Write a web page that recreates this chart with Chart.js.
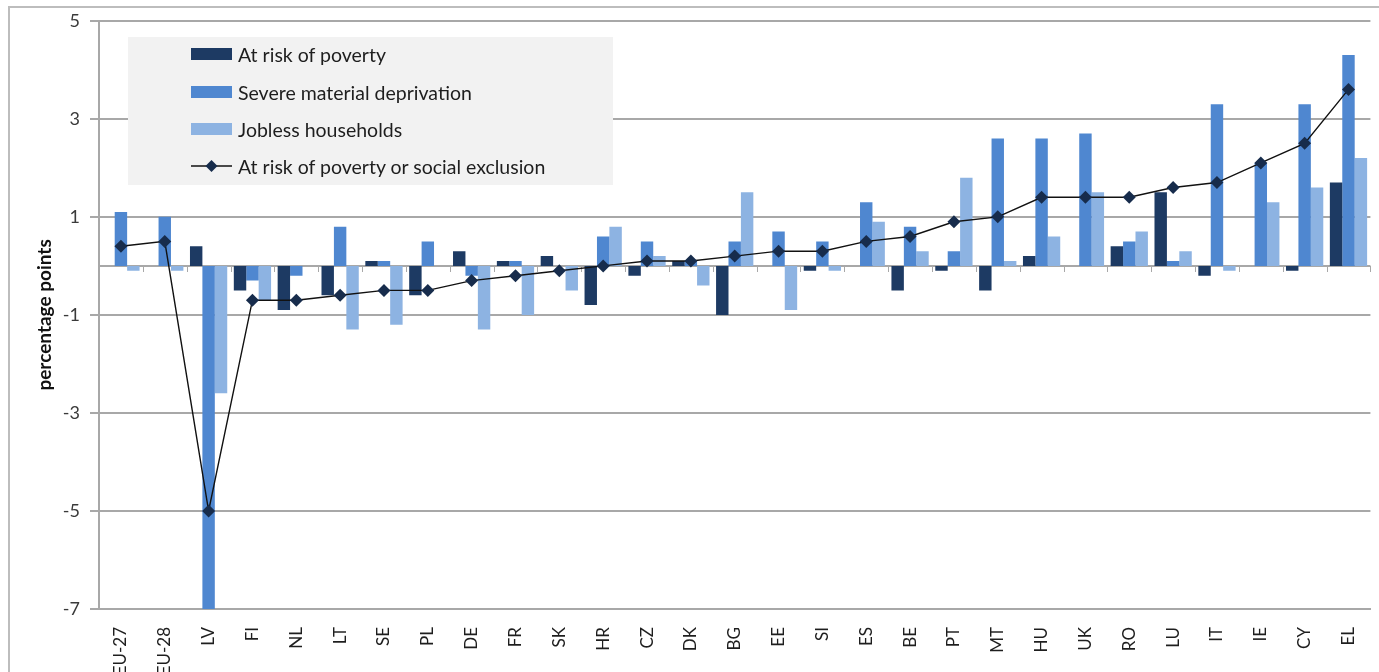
<!DOCTYPE html>
<html>
<head>
<meta charset="utf-8">
<title>Change by country, percentage points</title>
<script src="https://cdn.jsdelivr.net/npm/chart.js@4.4.1/dist/chart.umd.min.js"></script>
<style>
  html, body { margin: 0; padding: 0; background: #fff; overflow: hidden; }
  #wrap { position: relative; width: 1379px; height: 672px; }
  #chart { position: absolute; left: 0; top: 0; }
  #legend {
    position: absolute; left: 128px; top: 37px; width: 485px; height: 148px;
    background: #f2f2f2; font-family: Lato, "Open Sans", sans-serif; font-size: 19.5px; color: #1e1e1e;
  }
  #legend .item { position: absolute; left: 63px; height: 24px; display: flex; align-items: center; white-space: nowrap; }
</style>
</head>
<body>
<div id="wrap">
  <canvas id="chart" width="1379" height="672"></canvas>
  <div id="legend"></div>
</div>
<script>
// Categories (countries, ordered by the combined indicator)
const categories = ['EU-27','EU-28','LV','FI','NL','LT','SE','PL','DE','FR','SK','HR','CZ','DK','BG','EE','SI','ES','BE','PT','MT','HU','UK','RO','LU','IT','IE','CY','EL'];

// Series values (percentage points)
const atRiskOfPoverty      = [0.0, 0.0, 0.4,-0.5,-0.9,-0.6, 0.1,-0.6, 0.3, 0.1, 0.2,-0.8,-0.2, 0.1,-1.0, 0.0,-0.1, 0.0,-0.5,-0.1,-0.5, 0.2, 0.0, 0.4, 1.5,-0.2, 0.0,-0.1, 1.7];
const severeDeprivation    = [1.1, 1.0,-7.0,-0.3,-0.2, 0.8, 0.1, 0.5,-0.2, 0.1, 0.0, 0.6, 0.5, 0.1, 0.5, 0.7, 0.5, 1.3, 0.8, 0.3, 2.6, 2.6, 2.7, 0.5, 0.1, 3.3, 2.1, 3.3, 4.3];
const joblessHouseholds    = [-0.1,-0.1,-2.6,-0.7, 0.0,-1.3,-1.2, 0.0,-1.3,-1.0,-0.5, 0.8, 0.2,-0.4, 1.5,-0.9,-0.1, 0.9, 0.3, 1.8, 0.1, 0.6, 1.5, 0.7, 0.3,-0.1, 1.3, 1.6, 2.2];
const povertyOrExclusion   = [0.4, 0.5,-5.0,-0.7,-0.7,-0.6,-0.5,-0.5,-0.3,-0.2,-0.1, 0.0, 0.1, 0.1, 0.2, 0.3, 0.3, 0.5, 0.6, 0.9, 1.0, 1.4, 1.4, 1.4, 1.6, 1.7, 2.1, 2.5, 3.6];

// Y-axis tick values
const yTicks = [-7, -5, -3, -1, 1, 3, 5];

const seriesLabels = ['At risk of poverty', 'Severe material deprivation', 'Jobless households', 'At risk of poverty or social exclusion'];

const COL_DARK = '#1d3a63';
const COL_MID = '#4f87d0';
const COL_LIGHT = '#8db3e2';
const COL_MARK = '#172c4c';
const GRID = '#a8a8a8';
const FONT = 'Lato, "Open Sans", sans-serif';

// Outer frame and the horizontal axis at zero with its category tick marks
const framePlugin = {
  id: 'frame',
  beforeDraw(chart) {
    const ctx = chart.ctx;
    ctx.save();
    ctx.fillStyle = '#fff';
    ctx.fillRect(0, 0, chart.width, chart.height);
    ctx.strokeStyle = '#bdbdbd';
    ctx.lineWidth = 2;
    ctx.beginPath();
    ctx.moveTo(9, chart.height);
    ctx.lineTo(9, 7);
    ctx.lineTo(chart.width, 7);
    ctx.stroke();
    ctx.restore();
  },
  beforeDatasetsDraw(chart) {
    const ctx = chart.ctx;
    const xs = chart.scales.x, ys = chart.scales.y;
    const y0 = Math.round(ys.getPixelForValue(0));
    const step = xs.getPixelForValue(1) - xs.getPixelForValue(0);
    ctx.save();
    ctx.strokeStyle = GRID;
    ctx.lineWidth = 2;
    ctx.beginPath();
    ctx.moveTo(chart.chartArea.left, y0);
    ctx.lineTo(chart.chartArea.right, y0);
    ctx.stroke();
    ctx.lineWidth = 1;
    ctx.beginPath();
    for (let i = 0; i <= categories.length; i++) {
      const x = Math.round(xs.getPixelForValue(i) - step / 2) + 0.5;
      ctx.moveTo(x, y0);
      ctx.lineTo(x, y0 + 6);
    }
    ctx.stroke();
    ctx.restore();
  }
};

const chart = new Chart(document.getElementById('chart'), {
  data: {
    labels: categories,
    datasets: [
      { type: 'line', label: seriesLabels[3], data: povertyOrExclusion, order: 0,
        borderColor: '#111', borderWidth: 1.4, tension: 0,
        pointStyle: 'rectRot', pointRadius: 6.5, pointBackgroundColor: COL_MARK, pointBorderColor: COL_MARK, pointBorderWidth: 0 },
      { type: 'bar', label: seriesLabels[0], data: atRiskOfPoverty, backgroundColor: COL_DARK, order: 1 },
      { type: 'bar', label: seriesLabels[1], data: severeDeprivation, backgroundColor: COL_MID, order: 1 },
      { type: 'bar', label: seriesLabels[2], data: joblessHouseholds, backgroundColor: COL_LIGHT, order: 1 }
    ]
  },
  options: {
    responsive: false,
    animation: false,
    layout: { padding: { left: 0, top: 20, right: 1, bottom: 0 } },
    datasets: { bar: { categoryPercentage: 0.85, barPercentage: 1.0 } },
    plugins: { legend: { display: false }, tooltip: { enabled: false } },
    scales: {
      x: {
        offset: true,
        grid: { display: false },
        border: { display: true, color: GRID, width: 2 },
        ticks: { autoSkip: false, maxRotation: 90, minRotation: 90, padding: 10,
                 color: '#1e1e1e', font: { family: FONT, size: 17 } },
        afterFit(scale) { scale.height = 63; }
      },
      y: {
        min: -7, max: 5,
        afterBuildTicks(scale) { scale.ticks = yTicks.map(v => ({ value: v })); },
        grid: { color: GRID, lineWidth: 2, tickLength: 9 },
        border: { display: true, color: GRID, width: 2 },
        ticks: { padding: 10, color: '#3a3a3a', font: { family: FONT, size: 18 } },
        title: { display: true, text: 'percentage points', color: '#111',
                 font: { family: FONT, size: 19, weight: 'bold' }, padding: { top: 33, bottom: 0 } },
        afterFit(scale) { scale.width = 99; }
      }
    }
  },
  plugins: [framePlugin]
});

// Legend panel built from the chart's datasets
const legend = document.getElementById('legend');
const rowOrder = [1, 2, 3, 0];
const rowTop = [5, 43, 80, 117];
rowOrder.forEach((di, r) => {
  const ds = chart.data.datasets[di];
  const item = document.createElement('div');
  item.className = 'item';
  item.style.top = rowTop[r] + 'px';
  const sw = document.createElement('canvas');
  sw.width = 41; sw.height = 14;
  sw.style.marginRight = '6px';
  const c = sw.getContext('2d');
  if (ds.type === 'bar') {
    c.fillStyle = ds.backgroundColor;
    c.fillRect(0, 1, 41, 12);
  } else {
    c.strokeStyle = '#111'; c.lineWidth = 1.4;
    c.beginPath(); c.moveTo(0, 7); c.lineTo(41, 7); c.stroke();
    c.fillStyle = COL_MARK;
    c.beginPath(); c.moveTo(20.5, 1); c.lineTo(26.5, 7); c.lineTo(20.5, 13); c.lineTo(14.5, 7); c.closePath(); c.fill();
  }
  item.appendChild(sw);
  const t = document.createElement('span');
  t.textContent = ds.label;
  item.appendChild(t);
  legend.appendChild(item);
});
</script>
</body>
</html>
